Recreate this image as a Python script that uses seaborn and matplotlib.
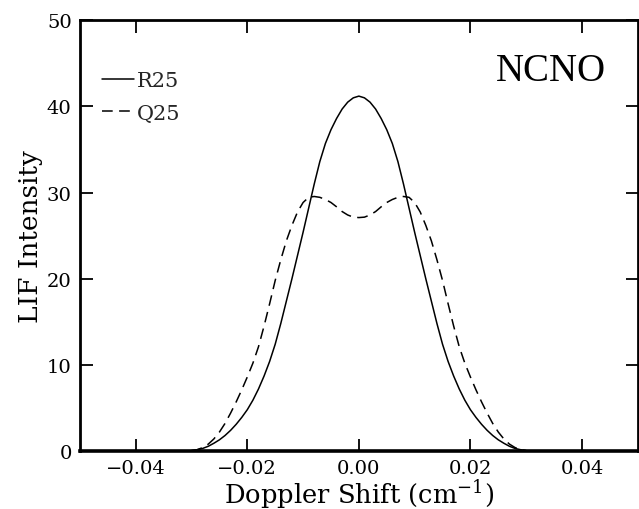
import numpy as np
import pandas as pd
import matplotlib
matplotlib.use("Agg")
import matplotlib.pyplot as plt
import seaborn as sns
from matplotlib.lines import Line2D

# Half-profile sample positions (|shift|, cm^-1) and read-off intensities
half_shift = [0.000, 0.001, 0.002, 0.003, 0.004, 0.005, 0.006, 0.007, 0.008, 0.009,
              0.010, 0.011, 0.012, 0.013, 0.014, 0.015, 0.016, 0.017, 0.018, 0.019,
              0.020, 0.021, 0.022, 0.023, 0.024, 0.025, 0.026, 0.027, 0.028, 0.029, 0.030]
r25_half = [41.2, 41.0, 40.5, 39.7, 38.6, 37.3, 35.7, 33.6, 31.0, 28.2,
            25.4, 22.7, 20.0, 17.4, 14.8, 12.4, 10.4, 8.7, 7.2, 5.9,
            4.8, 3.9, 3.1, 2.4, 1.8, 1.3, 0.9, 0.55, 0.3, 0.15, 0.05]
q25_half = [27.1, 27.15, 27.4, 27.8, 28.35, 28.85, 29.2, 29.45, 29.55, 29.45,
            28.85, 27.75, 26.2, 24.4, 22.2, 19.8, 17.1, 14.5, 12.1, 10.2,
            8.6, 7.1, 5.7, 4.4, 3.2, 2.2, 1.4, 0.8, 0.4, 0.15, 0.05]

series_names = ["R25", "Q25"]
x_ticks = [-0.04, -0.02, 0.00, 0.02, 0.04]
x_tick_labels = ["\u22120.04", "\u22120.02", "0.00", "0.02", "0.04"]
y_ticks = [0, 10, 20, 30, 40, 50]
x_label = "Doppler Shift (cm$^{-1}$)"
y_label = "LIF Intensity"
panel_label = "NCNO"

# Full symmetric profiles built from the read half-profiles
shift = [-s for s in half_shift[:0:-1]] + half_shift
r25 = r25_half[:0:-1] + r25_half
q25 = q25_half[:0:-1] + q25_half

df = pd.DataFrame({
    "shift": shift * 2,
    "intensity": r25 + q25,
    "line": [series_names[0]] * len(shift) + [series_names[1]] * len(shift),
})

sns.set_theme(style="ticks")
plt.rcParams["font.family"] = ["DejaVu Serif", "DejaVu Sans"]
plt.rcParams["mathtext.fontset"] = "dejavuserif"

fig = plt.figure(figsize=(6.39, 5.10), dpi=100)
ax = fig.add_axes([0.1252, 0.1137, 0.8728, 0.8445])

dash_q = (7.0, 4.2)
sns.lineplot(data=df, x="shift", y="intensity", hue="line", style="line",
             palette={"R25": "black", "Q25": "black"},
             dashes={"R25": "", "Q25": dash_q},
             linewidth=1.1, legend=False, ax=ax, sort=False,
             estimator=None)

ax.set_xlim(-0.05, 0.05)
ax.set_ylim(0, 50)
ax.set_xticks(x_ticks)
ax.set_xticklabels(x_tick_labels)
ax.set_yticks(y_ticks)
ax.tick_params(direction="in", length=9, width=1.3, top=True, right=True,
               labelsize=14, pad=6, colors="black")
for side, sp in ax.spines.items():
    sp.set_visible(True)
    sp.set_color("black")
    sp.set_linewidth(2.0)
ax.spines["bottom"].set_linewidth(2.6)

ax.set_xlabel(x_label, fontsize=18.5, labelpad=0, color="black")
ax.set_ylabel(y_label, fontsize=19, labelpad=3, color="black")

handles = [Line2D([], [], color="black", lw=1.1, ls="-"),
           Line2D([], [], color="black", lw=1.1, ls=(0, dash_q))]
ax.legend(handles, series_names, loc="upper left", frameon=False,
          fontsize=15, handlelength=1.55, handletextpad=0.15,
          labelspacing=0.65, borderaxespad=0.0, borderpad=0.0,
          bbox_to_anchor=(0.039, 0.882))

ax.text(0.845, 0.883, panel_label, transform=ax.transAxes,
        ha="center", va="center", fontsize=28,
        family=["Liberation Serif", "DejaVu Serif"], color="black")

fig.savefig("out.png", dpi=100, facecolor="white")
